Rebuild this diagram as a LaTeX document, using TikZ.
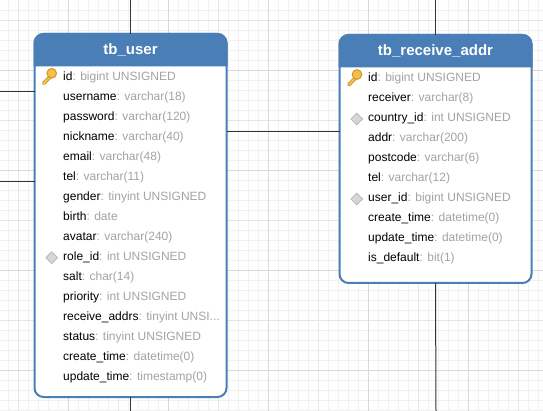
\documentclass[tikz,border=0pt]{standalone}
\usepackage{xcolor}
\usepackage{fontspec}
\setmainfont{Liberation Sans}
\usetikzlibrary{shapes.geometric}
\definecolor{headblue}{HTML}{4A7EB6}
\definecolor{typegray}{HTML}{A3A3A3}
\definecolor{linkgray}{HTML}{333333}
\definecolor{gridminor}{HTML}{F1F1F1}
\definecolor{gridmid}{HTML}{E6E6E6}
\definecolor{gridmajor}{HTML}{D9D9D9}
\definecolor{keyfill}{HTML}{F5C04A}
\definecolor{keyedge}{HTML}{CF9525}
\newcommand{\ftype}[1]{\textcolor{typegray}{#1}}
\tikzset{
  tablebox/.style={draw=headblue, fill=white, line width=2, rounded corners=9, minimum width=192, outer sep=0, inner sep=0},
  tablehead/.style={headblue, line width=2, rounded corners=9},
  tabletitle/.style={anchor=base, text=white, inner sep=0, font=\fontsize{15}{17}\selectfont\bfseries},
  field/.style={anchor=base west, inner sep=0, yshift=-0.7pt, font=\fontsize{12}{14}\selectfont},
  fkmark/.style={diamond, draw=black!28, fill=black!16, line width=0.8, minimum size=12, inner sep=0},
  relline/.style={linkgray, line width=1},
  keyicon/.pic={
    \draw[line width=3.6, color=keyedge, line cap=round] (-1,3) -- (-8,10);
    \draw[line width=1.8, color=keyfill, line cap=round] (-1,3) -- (-8,10);
    \draw[line width=1, color=keyedge, fill=keyfill] (0,0) circle (4.8);
  }
}
\begin{document}
\begin{tikzpicture}[x=1pt,y=-1pt]
\useasboundingbox (0,0) rectangle (543,411);
% grid
\foreach \gx in {8.5,18.5,...,538.5} \draw[gridminor, line width=1] (\gx,0) -- (\gx,411);
\foreach \gy in {10.5,20.5,...,410.5} \draw[gridminor, line width=1] (0,\gy) -- (543,\gy);
\foreach \gx in {18.5,118.5,...,518.5} \draw[gridmid, line width=1] (\gx,0) -- (\gx,411);
\foreach \gy in {20.5,120.5,...,320.5} \draw[gridmid, line width=1] (0,\gy) -- (543,\gy);
\foreach \gx in {68.5,168.5,...,468.5} \draw[gridmajor, line width=1] (\gx,0) -- (\gx,411);
\foreach \gy in {70.5,170.5,...,370.5} \draw[gridmajor, line width=1] (0,\gy) -- (543,\gy);
%
% tb_user
\node[tablebox, minimum height=363] (user) at (130.5,215.5) {};
\filldraw[tablehead] (34.5,66.5) |- (user.north) -| (226.5,66.5);
\node[tabletitle] (usertitle) at (130.5,55) {tb\_user};
\pic at (51.7,73.3) {keyicon};
\node[field] (u1) at (63,80) {id\ftype{: bigint UNSIGNED}};
\node[field] (u2) at (63,100) {username\ftype{: varchar(18)}};
\node[field] (u3) at (63,120) {password\ftype{: varchar(120)}};
\node[field] (u4) at (63,140) {nickname\ftype{: varchar(40)}};
\node[field] (u5) at (63,160) {email\ftype{: varchar(48)}};
\node[field] (u6) at (63,180) {tel\ftype{: varchar(11)}};
\node[field] (u7) at (63,200) {gender\ftype{: tinyint UNSIGNED}};
\node[field] (u8) at (63,220) {birth\ftype{: date}};
\node[field] (u9) at (63,240) {avatar\ftype{: varchar(240)}};
\node[fkmark] (ufk) at (51.7,257.7) {};
\node[field] (u10) at (63,260) {role\_id\ftype{: int UNSIGNED}};
\node[field] (u11) at (63,280) {salt\ftype{: char(14)}};
\node[field] (u12) at (63,300) {priority\ftype{: int UNSIGNED}};
\node[field] (u13) at (63,320) {receive\_addrs\ftype{: tinyint UNSI...}};
\node[field] (u14) at (63,340) {status\ftype{: tinyint UNSIGNED}};
\node[field] (u15) at (63,360) {create\_time\ftype{: datetime(0)}};
\node[field] (u16) at (63,380) {update\_time\ftype{: timestamp(0)}};
%
% tb_receive_addr
\node[tablebox, minimum height=248] (addr) at (435.5,159) {};
\filldraw[tablehead] (339.5,67.5) |- (addr.north) -| (531.5,67.5);
\node[tabletitle] (addrtitle) at (435.5,56) {tb\_receive\_addr};
\pic at (357,74.5) {keyicon};
\node[field] (a1) at (368,81) {id\ftype{: bigint UNSIGNED}};
\node[field] (a2) at (368,101) {receiver\ftype{: varchar(8)}};
\node[fkmark] (afk1) at (356.7,119) {};
\node[field] (a3) at (368,121) {country\_id\ftype{: int UNSIGNED}};
\node[field] (a4) at (368,141) {addr\ftype{: varchar(200)}};
\node[field] (a5) at (368,161) {postcode\ftype{: varchar(6)}};
\node[field] (a6) at (368,181) {tel\ftype{: varchar(12)}};
\node[fkmark] (afk2) at (356.7,199) {};
\node[field] (a7) at (368,201) {user\_id\ftype{: bigint UNSIGNED}};
\node[field] (a8) at (368,221) {create\_time\ftype{: datetime(0)}};
\node[field] (a9) at (368,241) {update\_time\ftype{: datetime(0)}};
\node[field] (a10) at (368,261) {is\_default\ftype{: bit(1)}};
%
% links
\coordinate (usertop) at (130.5,0);
\coordinate (userbottom) at (130.5,411);
\coordinate (userleftA) at (0,91.5);
\coordinate (userleftB) at (0,181.5);
\coordinate (midlink) at (280,131.5);
\coordinate (addrtop) at (435.5,0);
\coordinate (addrbottom) at (436,411);
\draw[relline] (usertop) -- (user.north);
\draw[relline] (user.south) -- (userbottom);
\draw[relline] (userleftA) -- (userleftA -| user.west);
\draw[relline] (userleftB) -- (userleftB -| user.west);
\draw[relline] (midlink -| user.east) -- (midlink -| addr.west);
\draw[relline] (addrtop) -- (addr.north);
\draw[relline] (addr.south) -- (addrbottom);
%
\end{tikzpicture}
\end{document}
